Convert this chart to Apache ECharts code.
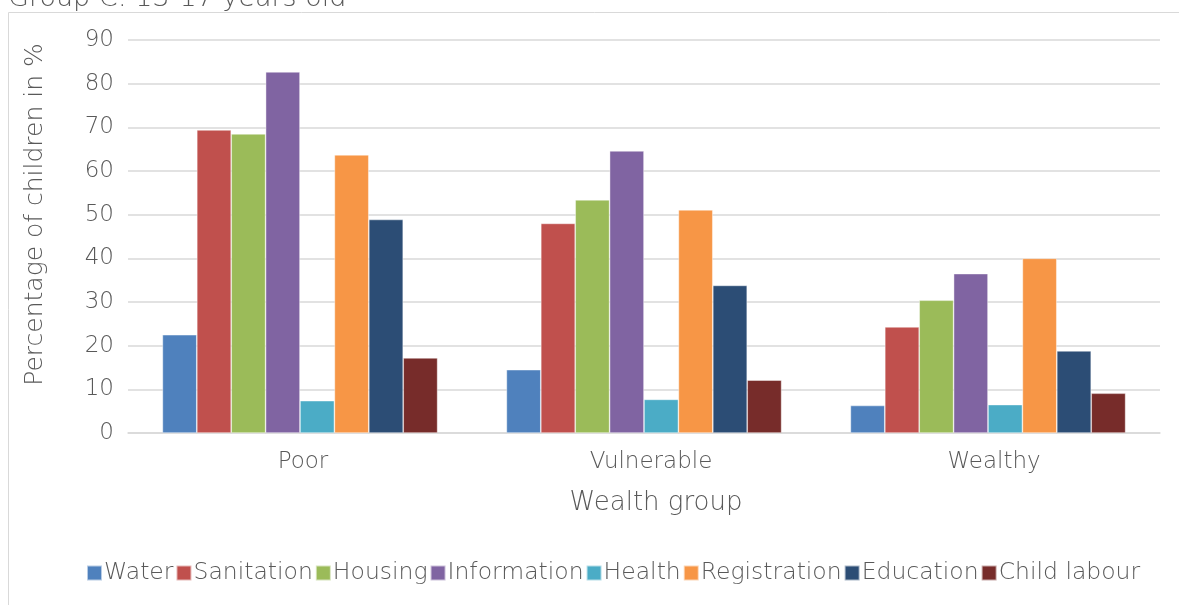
<!DOCTYPE html>
<html><head><meta charset="utf-8">
<script src="https://cdn.jsdelivr.net/npm/echarts@6/dist/echarts.min.js"></script>
<style>html,body{margin:0;padding:0;background:#fff}#c{width:1179px;height:605px}</style>
</head><body><div id="c"></div>
<script>
const categories = ['Poor', 'Vulnerable', 'Wealthy'];
const seriesNames = ['Water', 'Sanitation', 'Housing', 'Information', 'Health', 'Registration', 'Education', 'Child labour'];
const water = [22.5, 14.5, 6.3];
const sanitation = [69.4, 48.0, 24.3];
const housing = [68.5, 53.4, 30.4];
const information = [82.7, 64.6, 36.5];
const health = [7.4, 7.7, 6.5];
const registration = [63.7, 51.1, 40.0];
const education = [48.9, 33.8, 18.8];
const childLabour = [17.2, 12.1, 9.1];
const colors = ['#4f81bd', '#c0504d', '#9bbb59', '#8064a2', '#4bacc6', '#f79646', '#2c4d75', '#772c2a'];
const values = [water, sanitation, housing, information, health, registration, education, childLabour];
const yTicks = [0, 10, 20, 30, 40, 50, 60, 70, 80, 90];
const titleText = 'Group C: 13-17 years old';

const font = 'DejaVu Sans';
const txt = '#595959';
const labelShift = [6, 14, 12];
const rich = {};
categories.forEach((c, i) => { rich['c' + i] = {fontSize: 23, color: txt, fontFamily: font, fontWeight: 300, padding: [0, 0, 0, labelShift[i]]}; });

const chart = echarts.init(document.getElementById('c'), null, {renderer: 'canvas'});
chart.setOption({
  animation: false,
  color: colors,
  textStyle: {fontFamily: font, fontWeight: 300},
  graphic: [
    {type: 'rect', shape: {x: 8.5, y: 12.5, width: 1300, height: 800}, style: {fill: 'none', stroke: '#d9d9d9', lineWidth: 1}, z: -1},
    {type: 'text', style: {x: 8, y: 12, verticalAlign: 'bottom', text: titleText, font: '300 27px ' + font, fill: txt}}
  ],
  grid: {left: 128, right: 19, top: 40, bottom: 172},
  legend: {
    bottom: 15, left: 81, itemWidth: 15, itemHeight: 15, itemGap: 2,
    icon: 'rect',
    textStyle: {fontSize: 23.5, color: txt, fontFamily: font, fontWeight: 300, padding: [0, 0, 0, -3]},
    data: seriesNames
  },
  xAxis: {
    type: 'category', data: categories,
    name: 'Wealth group', nameLocation: 'middle', nameGap: 57,
    nameTextStyle: {fontSize: 26, color: txt, fontWeight: 300, padding: [0, 0, 0, 24]},
    axisLine: {lineStyle: {color: '#d9d9d9', width: 1.5}},
    axisTick: {show: false},
    axisLabel: {margin: 18, formatter: (v) => '{c' + categories.indexOf(v) + '|' + v + '}', rich: rich}
  },
  yAxis: {
    type: 'value', min: yTicks[0], max: yTicks[yTicks.length - 1], interval: 10,
    name: 'Percentage of children in %', nameLocation: 'middle', nameGap: 80,
    nameTextStyle: {fontSize: 25, color: txt, fontWeight: 300, padding: [0, 0, 0, 44]},
    axisLine: {show: false}, axisTick: {show: false},
    axisLabel: {fontSize: 23, color: txt, margin: 14, fontWeight: 300},
    splitLine: {lineStyle: {color: '#d9d9d9', width: 1.5}}
  },
  series: seriesNames.map((n, i) => ({
    name: n, type: 'bar', data: values[i],
    barGap: '0%', barCategoryGap: '20%',
    itemStyle: {borderColor: 'rgba(255,255,255,0.6)', borderWidth: 0.7}
  }))
});
</script></body></html>
